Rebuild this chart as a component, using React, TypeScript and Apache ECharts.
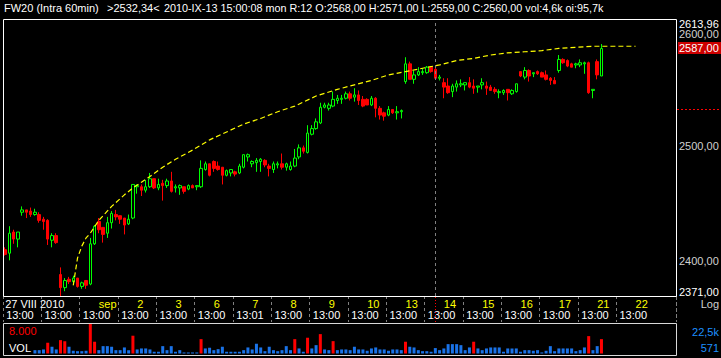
import React, { useEffect, useRef } from 'react';
import * as echarts from 'echarts';

const FONT = '"Liberation Sans", Arial, sans-serif';
const SLOT_COUNT = 158;
const SLOTS_PER_DAY = 9;

const dayLabels = ['27 VIII 2010', '', 'sep', '2', '3', '6', '7', '8', '9', '10', '13', '14', '15', '16', '17', '21', '22'];
const timeLabels = ['13:00', '13:00', '13:00', '13:00', '13:00', '13:00', '13:01', '13:00', '13:00', '13:00', '13:00', '13:00', '13:00', '13:00', '13:00', '13:00', '13:00'];

const opens = [
  2410, 2407, 2425, 2419, 2442, 2444, 2443, 2440, 2440, 2436, 2435, 2418, 2422, 2389, 2378, 2385, 2383, 2386, 2379, 2384,
  2381, 2415, 2434, 2429, 2424, 2433, 2440, 2439, 2437, 2432, 2437, 2464, 2464, 2461, 2464, 2471, 2463, 2467, 2465, 2469,
  2463, 2463, 2464, 2462, 2465, 2464, 2464, 2479, 2484, 2486, 2482, 2481, 2474, 2476, 2477, 2476, 2481, 2490, 2484, 2485,
  2486, 2487, 2482, 2479, 2483, 2484, 2481, 2479, 2482, 2490, 2498, 2494, 2510, 2515, 2520, 2534, 2533, 2535, 2540, 2541,
  2542, 2546, 2543, 2545, 2541, 2541, 2536, 2542, 2533, 2529, 2527, 2532, 2529, 2530, 2557, 2573, 2559, 2563, 2565, 2565,
  2570, 2568, 2560, 2556, 2553, 2548, 2552, 2554, 2554, 2556, 2553, 2552, 2554, 2553, 2552, 2550, 2547, 2547, 2550, 2546,
  2548, 2566, 2561, 2567, 2564, 2566, 2565, 2563, 2560, 2558, 2567, 2577, 2576, 2573, 2572, 2572, 2573, 2574, 2549, 2575,
  2562,
];
const highs = [
  2412, 2430, 2427, 2425, 2447, 2444, 2446, 2445, 2442, 2438, 2436, 2424, 2424, 2395, 2386, 2387, 2388, 2386, 2383, 2384,
  2420, 2431, 2437, 2429, 2438, 2443, 2444, 2439, 2437, 2440, 2466, 2466, 2466, 2470, 2476, 2471, 2471, 2470, 2471, 2477,
  2466, 2466, 2464, 2466, 2466, 2465, 2487, 2486, 2484, 2487, 2486, 2481, 2479, 2479, 2478, 2484, 2492, 2493, 2487, 2489,
  2489, 2488, 2484, 2486, 2486, 2493, 2485, 2486, 2497, 2501, 2500, 2518, 2518, 2524, 2538, 2538, 2538, 2548, 2545, 2545,
  2548, 2548, 2551, 2549, 2544, 2542, 2544, 2543, 2535, 2530, 2535, 2532, 2535, 2532, 2579, 2575, 2567, 2570, 2569, 2571,
  2571, 2571, 2563, 2560, 2560, 2555, 2558, 2559, 2556, 2561, 2559, 2553, 2560, 2557, 2554, 2552, 2550, 2550, 2550, 2550,
  2555, 2566, 2570, 2568, 2565, 2567, 2566, 2567, 2561, 2561, 2581, 2578, 2577, 2574, 2574, 2577, 2575, 2575, 2550, 2577,
  2591,
];
const lows = [
  2405, 2401, 2415, 2412, 2439, 2437, 2438, 2439, 2433, 2427, 2414, 2412, 2415, 2371, 2375, 2381, 2380, 2378, 2377, 2377,
  2380, 2414, 2424, 2416, 2420, 2428, 2435, 2432, 2423, 2431, 2436, 2458, 2456, 2459, 2463, 2462, 2461, 2452, 2463, 2459,
  2459, 2457, 2458, 2461, 2463, 2461, 2463, 2478, 2473, 2477, 2478, 2466, 2473, 2473, 2473, 2475, 2480, 2486, 2481, 2477,
  2477, 2481, 2473, 2476, 2480, 2479, 2478, 2478, 2481, 2488, 2493, 2493, 2509, 2514, 2519, 2533, 2531, 2534, 2537, 2537,
  2541, 2540, 2539, 2536, 2534, 2536, 2535, 2525, 2523, 2522, 2526, 2528, 2523, 2524, 2555, 2559, 2555, 2562, 2563, 2564,
  2565, 2559, 2558, 2542, 2546, 2543, 2548, 2552, 2549, 2551, 2546, 2547, 2550, 2545, 2549, 2546, 2542, 2545, 2540, 2545,
  2547, 2561, 2559, 2557, 2561, 2563, 2561, 2558, 2554, 2555, 2565, 2573, 2570, 2570, 2569, 2570, 2564, 2546, 2542, 2559,
  2562,
];
const closes = [
  2406, 2424, 2419, 2425, 2444, 2442, 2440, 2442, 2435, 2434, 2419, 2422, 2416, 2378, 2384, 2383, 2386, 2379, 2382, 2380,
  2415, 2430, 2427, 2423, 2433, 2441, 2438, 2436, 2431, 2436, 2466, 2465, 2461, 2464, 2471, 2463, 2466, 2465, 2469, 2460,
  2464, 2465, 2460, 2465, 2463, 2465, 2480, 2484, 2474, 2480, 2479, 2474, 2478, 2479, 2475, 2482, 2492, 2492, 2486, 2487,
  2488, 2483, 2480, 2484, 2484, 2481, 2484, 2482, 2489, 2498, 2495, 2511, 2515, 2521, 2534, 2536, 2536, 2541, 2542, 2542,
  2546, 2542, 2545, 2540, 2535, 2536, 2542, 2533, 2527, 2526, 2532, 2529, 2530, 2531, 2573, 2559, 2563, 2566, 2566, 2570,
  2566, 2560, 2561, 2552, 2547, 2553, 2555, 2555, 2556, 2552, 2551, 2553, 2556, 2551, 2549, 2548, 2548, 2549, 2547, 2549,
  2555, 2562, 2567, 2562, 2565, 2564, 2561, 2559, 2558, 2555, 2577, 2574, 2571, 2570, 2573, 2574, 2574, 2547, 2550, 2563,
  2587,
];

// volume per bar (first bars hidden behind the panel captions)
const volumes = [
  null, null, null, null, null, null, null, 3060, 3060, 3580, 8570, 5590, 3580, 10510, 9760, 5590, 2610, 2310, 2310, 2610,
  22500, 9320, 3060, 6040, 6040, 5590, 3060, 3060, 5070, 3060, 13790, 3580, 4330, 4330, 3580, 1870, 1870, 6040, 3060, 6040,
  1870, 3060, 1350, 1350, 1350, 1350, 11250, 4330, 4850, 3060, 3800, 5590, 1870, 1870, 1870, 1870, 3060, 5070, 3580, 7800,
  5070, 2310, 5590, 3060, 2310, 3060, 6040, 3060, 11250, 4330, 1870, 12290, 4330, 6780, 14980, 3580, 3060, 9760, 3060, 3580,
  3580, 3060, 5590, 3580, 3580, 2610, 4330, 5070, 3580, 3580, 2610, 3580, 3580, 3060, 9320, 5590, 5070, 3060, 2310, 2310,
  1870, 4600, 3060, 4330, 7530, 7530, 7530, 6780, 3060, 5070, 9320, 4330, 3060, 4330, 5070, 5070, 5070, 1870, 4330, 4330,
  4330, 1870, 3060, 3060, 2610, 3060, 1350, 2610, 6040, 2310, 4330, 4330, 4330, 4330, 2310, 3060, 5070, 13490, 3060, 6040,
  11250,
];

// hand-drawn dashed arc, read at these bar slots
const curveSlots = [16, 17, 18, 19, 20, 22, 25, 28, 30, 32, 34, 37, 40, 44, 48, 52, 56, 60, 64, 68, 73, 78, 82, 86, 90, 94, 98, 102, 106, 110, 114, 118, 122, 126, 130, 134, 138, 142, 148];
const curveValues = [2380, 2403, 2413, 2420, 2424, 2435, 2447, 2457, 2463, 2468, 2473, 2481, 2488, 2496, 2505, 2512, 2519, 2524, 2530, 2535, 2544, 2550, 2554, 2558, 2563, 2566, 2569, 2572, 2576, 2578, 2581, 2583, 2584, 2585, 2587, 2588, 2589, 2589, 2589];

const priceMin = 2371;
const priceMax = 2613.96;
const priceTicks = [2600, 2500, 2400];
const volMin = 571;
const volMax = 22500;
const volThreshold = 8000;

const headerTitle = 'FW20 (Intra 60min)';
const cursorIndex = 101;
const cursorPrice = 2532.34;
const cursorStamp = '2010-IX-13 15:00:08 mon R:12';
const openInterest = '95,7k';

const fmt = (v: number) => v.toFixed(2).replace('.', ',');
const fmtK = (v: number) => (v / 1000).toFixed(1).replace('.', ',') + 'k';
const fmtThousands = (v: number) => String(v).replace(/\B(?=(\d{3})+(?!\d))/g, '.');

const GREEN = '#00ff00';
const RED = '#ff0000';
const BLUE = '#1a73e8';

function buildOption() {
  const slotNames = Array.from({ length: SLOT_COUNT }, (_, i) => String(i));
  const daySlots = dayLabels.map((_, k) => (k === 0 ? 0 : k * SLOTS_PER_DAY + Math.floor(SLOTS_PER_DAY / 2)));
  const candleData = opens.map((o, i) => [o, closes[i], lows[i], highs[i]]);
  const curve: (number | null)[] = Array.from({ length: SLOT_COUNT }, () => null);
  curveSlots.forEach((s, i) => {
    curve[s] = curveValues[i];
  });
  const volData = volumes.map((v) =>
    v == null ? '-' : { value: v, itemStyle: { color: v > volThreshold ? RED : BLUE } }
  );
  const isTimeSlot = (i: number) => i % SLOTS_PER_DAY === 0 && i / SLOTS_PER_DAY < timeLabels.length;

  return {
    animation: false,
    backgroundColor: '#000',
    textStyle: { fontFamily: FONT, fontSize: 11 },
    grid: [
      { left: 3, top: 19, width: 673, height: 277, show: false },
      { left: 3, top: 324, width: 673, height: 29.5, show: false },
    ],
    xAxis: [
      {
        type: 'category',
        gridIndex: 0,
        data: slotNames,
        boundaryGap: true,
        position: 'bottom',
        axisLine: { show: false },
        axisTick: {
          show: true,
          interval: (i: number) => isTimeSlot(i),
          length: 26,
          lineStyle: { color: '#808080', type: [3, 3], width: 1 },
        },
        axisLabel: {
          show: true,
          interval: (i: number) => isTimeSlot(i),
          formatter: (v: string) => timeLabels[Number(v) / SLOTS_PER_DAY] || '',
          color: '#ffffff',
          fontFamily: FONT,
          fontSize: 11,
          align: 'left',
          margin: 13,
          padding: [0, 0, 0, 1],
        },
        splitLine: { show: false },
      },
      {
        type: 'category',
        gridIndex: 0,
        data: slotNames,
        boundaryGap: true,
        position: 'bottom',
        axisLine: { show: false },
        axisTick: { show: false },
        axisLabel: {
          show: true,
          interval: (i: number) => daySlots.indexOf(i) >= 0,
          formatter: (v: string) => {
            const k = daySlots.indexOf(Number(v));
            return k >= 0 ? dayLabels[k] : '';
          },
          color: (v: string) => (Number(v) === 0 ? '#ffffff' : '#ffff00'),
          fontFamily: FONT,
          fontSize: 11,
          align: 'left',
          margin: 2,
        },
        splitLine: { show: false },
      },
      {
        type: 'category',
        gridIndex: 1,
        data: slotNames,
        boundaryGap: true,
        show: false,
      },
    ],
    yAxis: [
      {
        type: 'log',
        logBase: 10,
        gridIndex: 0,
        position: 'right',
        min: priceMin,
        max: priceMax,
        axisLine: { show: false },
        axisTick: { show: false },
        axisLabel: { show: false },
        splitLine: { show: false },
      },
      {
        type: 'value',
        gridIndex: 1,
        min: volMin,
        max: volMax,
        show: false,
        splitLine: { show: false },
      },
    ],
    series: [
      {
        type: 'candlestick',
        xAxisIndex: 0,
        yAxisIndex: 0,
        barWidth: 3,
        data: candleData,
        itemStyle: {
          color: '#000000',
          color0: RED,
          borderColor: GREEN,
          borderColor0: RED,
          borderWidth: 1,
        },
        markLine: {
          silent: true,
          symbol: ['none', 'none'],
          label: { show: false },
          lineStyle: { color: '#808080', type: [3, 3], width: 1 },
          data: [{ xAxis: cursorIndex }],
        },
        z: 2,
      },
      {
        type: 'line',
        xAxisIndex: 0,
        yAxisIndex: 0,
        data: curve,
        connectNulls: true,
        showSymbol: false,
        symbol: 'none',
        lineStyle: { color: '#ffff00', width: 1.2, type: [5, 3] },
        z: 3,
      },
      {
        type: 'bar',
        xAxisIndex: 2,
        yAxisIndex: 1,
        barWidth: 3,
        data: volData,
      },
    ],
  };
}

export default function App() {
  const ref = useRef<HTMLDivElement>(null);
  useEffect(() => {
    document.body.style.margin = '0';
    document.body.style.background = '#000';
    const el = ref.current;
    if (!el) return;
    const chart = echarts.init(el, null, { renderer: 'svg' });
    chart.setOption(buildOption() as any);

    const py = (v: number) => chart.convertToPixel({ yAxisIndex: 0 }, v) as number;
    const px = (i: number) => chart.convertToPixel({ xAxisIndex: 0 }, i) as number;
    const text = (t: string, x: number, y: number, fill: string, align = 'left', va = 'middle', size = 11) => ({
      type: 'text',
      silent: true,
      x,
      y,
      style: { text: t, fill, font: size + 'px ' + FONT, align, verticalAlign: va },
      z: 10,
    });

    const ci = cursorIndex;
    const lastClose = closes[closes.length - 1];
    const cx = Math.round(px(ci)) + 0.5;
    const cy = Math.round(py(cursorPrice)) + 0.5;
    const top = py(priceMax);
    const bottom = py(priceMin);
    const lastY = py(lastClose);

    const elements: any[] = [
      // frames
      { type: 'rect', silent: true, shape: { x: 3.5, y: Math.round(top) + 0.5, width: 673, height: Math.round(bottom - top) }, style: { fill: 'none', stroke: '#ffffff', lineWidth: 1 }, z: 5 },
      { type: 'rect', silent: true, shape: { x: 3.5, y: 323.5, width: 673, height: 32 }, style: { fill: 'none', stroke: '#d8d8d8', lineWidth: 1 }, z: 5 },
      { type: 'line', silent: true, shape: { x1: 676.5, y1: 297, x2: 676.5, y2: 322 }, style: { stroke: '#808080', lineWidth: 1, lineDash: [3, 3] }, z: 5 },
      // header
      text(headerTitle, 4, 8, '#ffffff'),
      text('>' + fmt(cursorPrice) + '<', 107, 8, '#ffffff'),
      text(
        `${cursorStamp} O:${fmt(opens[ci])} H:${fmt(highs[ci])} L:${fmt(lows[ci])} C:${fmt(closes[ci])} vol:${fmtK(volumes[ci] as number)} oi:${openInterest}`,
        164,
        8,
        '#ffffff',
        'left',
        'middle',
        10.8
      ),
      // price axis labels
      text(fmt(priceMax), 679, top - 1, '#ffffff', 'left', 'top'),
      text(fmt(priceMin), 679, bottom + 1, '#ffffff', 'left', 'bottom'),
      ...priceTicks.map((v) => text(fmt(v), 679, py(v), '#d0d0d0', 'left', 'middle')),
      { type: 'rect', silent: true, shape: { x: 678, y: Math.round(lastY) - 6, width: 43, height: 12 }, style: { fill: '#cc0000' }, z: 9 },
      text(fmt(lastClose), 679, lastY, '#ffffff', 'left', 'middle'),
      text('Log', 719, 303.5, '#d0d0d0', 'right', 'middle'),
      // cursor
      { type: 'line', silent: true, shape: { x1: 677, y1: cy, x2: 721, y2: cy }, style: { stroke: RED, lineWidth: 1, lineDash: [2, 2] }, z: 6 },
      { type: 'line', silent: true, shape: { x1: cx, y1: 297, x2: cx, y2: 323 }, style: { stroke: RED, lineWidth: 1, lineDash: [1, 2] }, z: 6 },
      // volume panel captions
      text(fmtThousands(volThreshold), 9, 331, RED),
      text('VOL', 9, 348, '#ffffff'),
      text(fmtK(volMax), 719, 332, '#1e90ff', 'right', 'middle'),
      text(String(volMin), 719, 347.5, '#1e90ff', 'right', 'middle'),
    ];
    chart.setOption({ graphic: elements } as any);

    return () => chart.dispose();
  }, []);

  return (
    <div
      ref={ref}
      style={{ position: 'absolute', left: 0, top: 0, width: 721, height: 358, background: '#000' }}
    />
  );
}
